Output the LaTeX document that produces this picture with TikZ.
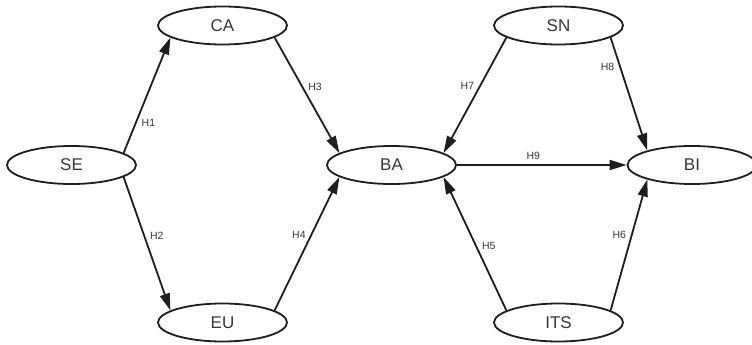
\documentclass[tikz,border=0pt]{standalone}
\usepackage{fontspec}
\setmainfont{Liberation Sans}
\usetikzlibrary{arrows.meta, shapes.geometric}
\definecolor{inkgray}{RGB}{30, 30, 30}
\definecolor{txtgray}{RGB}{55, 55, 55}
\tikzset{
  construct/.style={
    draw=inkgray, line width=1.8pt,
    ellipse, minimum width=129pt, minimum height=38pt,
    inner sep=0pt, text=txtgray,
    font=\fontsize{17}{19}\selectfont,
  },
  link/.style={draw=inkgray, line width=1.8pt, ->},
  hyp/.style={font=\fontsize{10.5}{12}\selectfont, text=txtgray, inner sep=2pt},
}

\begin{document}
\begin{tikzpicture}[x=1pt, y=-1pt, >={Triangle[length=17pt, width=10pt]}]
\useasboundingbox (0,0) rectangle (752,345);

\node[construct] (SE)  at (71.5,165)  {SE};
\node[construct] (CA)  at (222.5,25.5) {CA};
\node[construct] (EU)  at (222.5,322.5) {EU};
\node[construct] (BA)  at (391.5,165) {BA};
\node[construct] (SN)  at (558.5,25.5) {SN};
\node[construct] (ITS) at (558.5,322.5) {ITS};
\node[construct] (BI)  at (692,165)  {BI};

\draw[link] (SE.13)   -- node[hyp, pos=0.26, right=3pt] {H1} (CA.193);
\draw[link] (SE.-13)  -- node[hyp, pos=0.44, right=3pt] {H2} (EU.167);
\draw[link] (CA.-13)  -- node[hyp, pos=0.43, right=3pt] {H3} (BA.167);
\draw[link] (EU.13)   -- node[hyp, pos=0.57, left=3pt]  {H4} (BA.193);
\draw[link] (ITS.167) -- node[hyp, pos=0.48, right=3pt] {H5} (BA.-13);
\draw[link] (ITS.13)  -- node[hyp, pos=0.58, left=3pt]  {H6} (BI.198);
\draw[link] (SN.193)  -- node[hyp, pos=0.42, left=3pt]  {H7} (BA.13);
\draw[link] (SN.-13)  -- node[hyp, pos=0.26, left=3pt]  {H8} (BI.162);
\draw[link] (BA)      -- node[hyp, pos=0.45, above=2pt] {H9} (BI);

\end{tikzpicture}
\end{document}
